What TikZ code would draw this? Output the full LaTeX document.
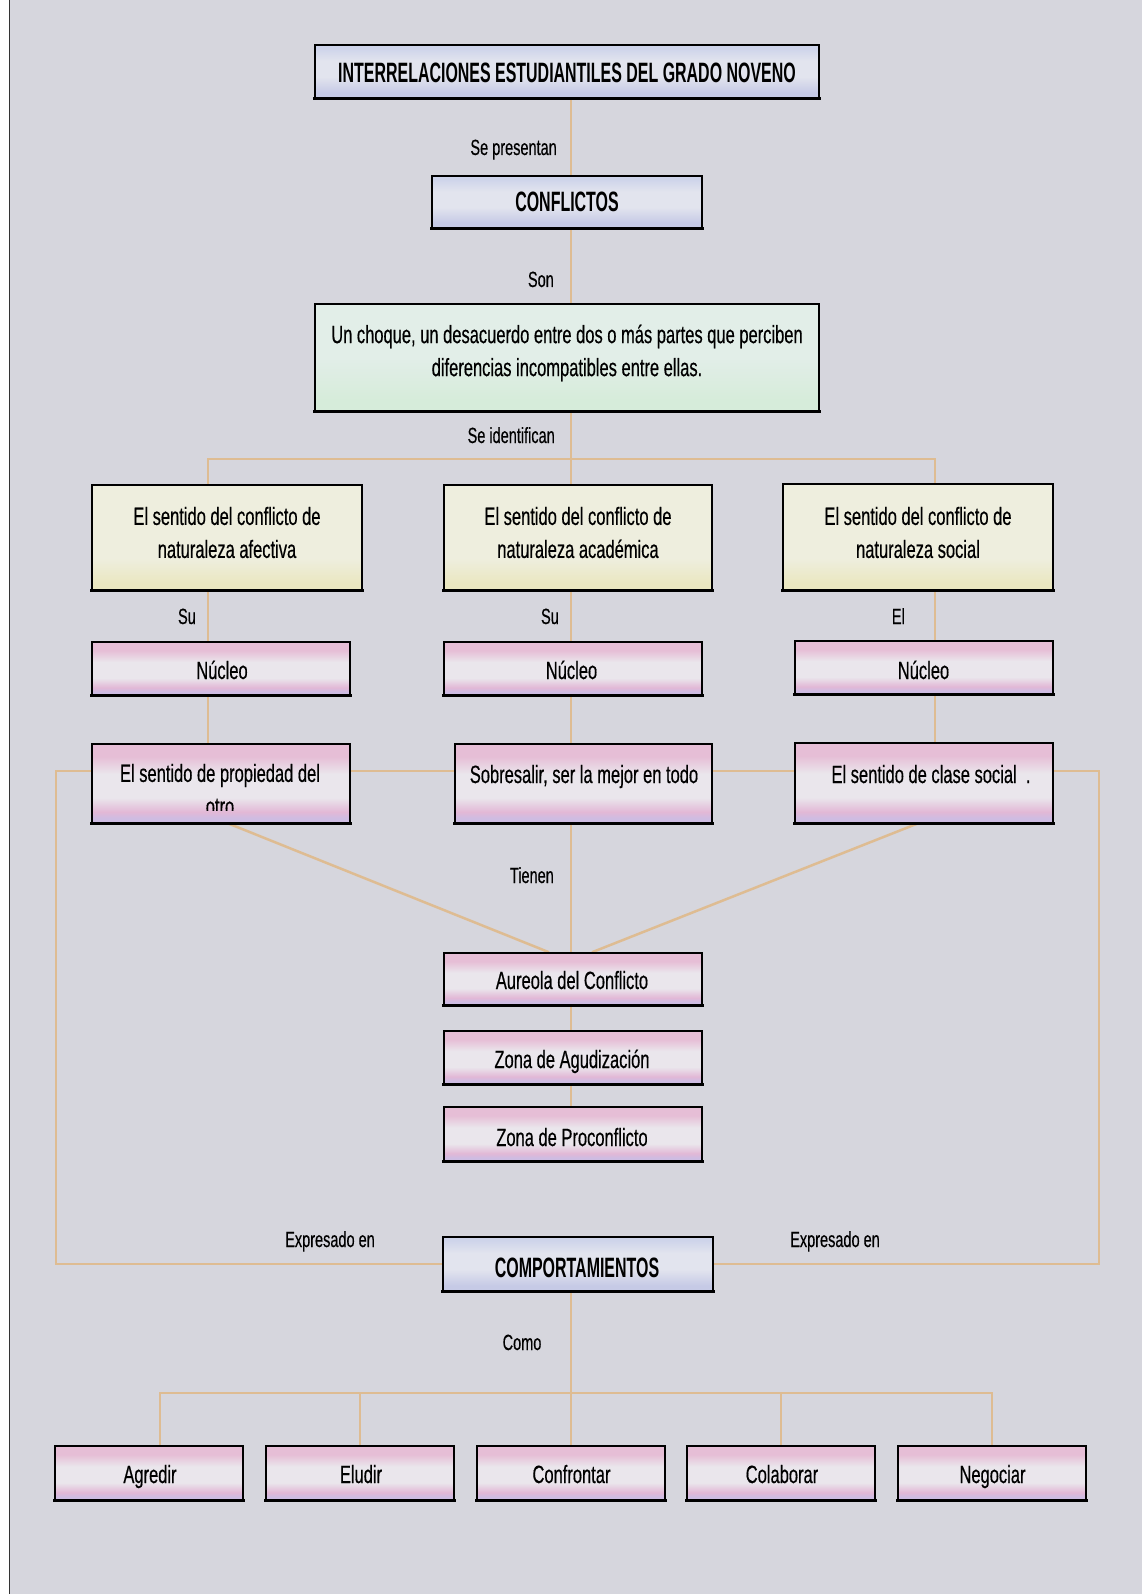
\documentclass[tikz,border=0pt]{standalone}
\usepackage{fontspec}
\setmainfont{Liberation Sans}[FakeStretch=0.66, FakeBold=0.4]
\newfontfamily\headfont{Liberation Sans}[FakeStretch=0.57]
\usetikzlibrary{calc}
\pgfdeclarelayer{page}
\pgfdeclarelayer{conn}
\pgfsetlayers{page,conn,main}
\definecolor{pagebg}{RGB}{214,214,221}
\definecolor{linec}{RGB}{222,188,146}
\definecolor{pkT}{RGB}{230,190,214}
\definecolor{pkM}{RGB}{234,230,236}
\definecolor{pkB}{RGB}{226,184,214}
\definecolor{pkL}{RGB}{206,188,226}
\definecolor{blT}{RGB}{206,212,234}
\definecolor{blM}{RGB}{226,228,238}
\definecolor{blB}{RGB}{198,202,230}
\definecolor{gnT}{RGB}{226,238,232}
\definecolor{gnB}{RGB}{214,236,218}
\definecolor{ywT}{RGB}{238,238,222}
\definecolor{ywB}{RGB}{234,231,192}
\pgfdeclareverticalshading{pinkshade}{100bp}{color(0bp)=(pkL); color(28bp)=(pkL); color(32bp)=(pkB); color(41bp)=(pkM); color(56bp)=(pkM); color(67bp)=(pkT); color(100bp)=(pkT)}
\pgfdeclareverticalshading{blueshade}{100bp}{color(0bp)=(blB); color(30bp)=(blB); color(45bp)=(blM); color(60bp)=(blM); color(72bp)=(blT); color(100bp)=(blT)}
\pgfdeclareverticalshading{yellowshade}{100bp}{color(0bp)=(ywB); color(28bp)=(ywB); color(40bp)=(ywT); color(100bp)=(ywT)}
\pgfdeclareverticalshading{greenshade}{100bp}{color(0bp)=(gnB); color(30bp)=(gnB); color(50bp)=(gnT); color(100bp)=(gnT)}
\tikzset{
  box/.style={draw=black, line width=1.5pt, inner sep=0pt, shade},
  pinkbox/.style={box, shading=pinkshade},
  bluebox/.style={box, shading=blueshade},
  yellowbox/.style={box, shading=yellowshade},
  greenbox/.style={box, shading=greenshade},
  boxtxt/.style={font=\fontsize{25}{33}\selectfont, align=center, inner sep=0pt, text=black},
  lbl/.style={font=\fontsize{22}{26}\selectfont, inner sep=0pt, text=black},
  headtxt/.style={font=\headfont\bfseries\fontsize{28}{32}\selectfont, inner sep=0pt, text=black},
  conn/.style={draw=linec, line width=2.5pt},
}
\begin{document}
\begin{tikzpicture}[x=1pt,y=-1pt]
\useasboundingbox (0,0) rectangle (1142,1594);
\begin{pgfonlayer}{page}
  \fill[white] (0,0) rectangle (1142,1594);
  \fill[pagebg] (10,0) rectangle (1142,1594);
  \draw[line width=1.5pt, black!80] (9.5,0) -- (9.5,1594);
\end{pgfonlayer}

% boxes
\node[bluebox, minimum width=504pt, minimum height=53pt] (title) at (567,71.5) {};
\node[bluebox, minimum width=270pt, minimum height=52pt] (conf) at (567,202) {};
\node[greenbox, minimum width=504pt, minimum height=107pt] (def) at (567,357.5) {};
\node[yellowbox, minimum width=270pt, minimum height=105pt] (yL) at (227,537.5) {};
\node[yellowbox, minimum width=268pt, minimum height=105pt] (yM) at (578,537.5) {};
\node[yellowbox, minimum width=270pt, minimum height=106pt] (yR) at (918,537) {};
\node[pinkbox, minimum width=258pt, minimum height=53pt] (nL) at (221,668.5) {};
\node[pinkbox, minimum width=258pt, minimum height=53pt] (nM) at (573,668.5) {};
\node[pinkbox, minimum width=258pt, minimum height=53pt] (nR) at (924,667.5) {};
\node[pinkbox, minimum width=258pt, minimum height=79pt] (pL) at (221,783.5) {};
\node[pinkbox, minimum width=257pt, minimum height=79pt] (pM) at (583.5,783.5) {};
\node[pinkbox, minimum width=258pt, minimum height=80pt] (pR) at (924,783) {};
\node[pinkbox, minimum width=258pt, minimum height=52pt] (aur) at (573,979) {};
\node[pinkbox, minimum width=258pt, minimum height=53pt] (agu) at (573,1057.5) {};
\node[pinkbox, minimum width=258pt, minimum height=54pt] (pro) at (573,1134) {};
\node[bluebox, minimum width=270pt, minimum height=54pt] (comp) at (578,1264) {};
\node[pinkbox, minimum width=188pt, minimum height=54pt] (b1) at (149,1473) {};
\node[pinkbox, minimum width=188pt, minimum height=54pt] (b2) at (360,1473) {};
\node[pinkbox, minimum width=188pt, minimum height=54pt] (b3) at (571,1473) {};
\node[pinkbox, minimum width=188pt, minimum height=54pt] (b4) at (781,1473) {};
\node[pinkbox, minimum width=188pt, minimum height=54pt] (b5) at (992,1473) {};

\foreach \n in {title,conf,def,yL,yM,yR,nL,nM,nR,pL,pM,pR,aur,agu,pro,comp,b1,b2,b3,b4,b5}
  \draw[line width=3.2pt] ($(\n.south west)+(-0.8,0)$) -- ($(\n.south east)+(0.8,0)$);

% texts in boxes
\node[headtxt, anchor=base] (titlet) at (567,83) {INTERRELACIONES ESTUDIANTILES DEL GRADO NOVENO};
\node[headtxt, anchor=base] (conft) at (567,212) {CONFLICTOS};
\node[boxtxt] (deft) at (567,353) {Un choque, un desacuerdo entre dos o más partes que perciben\\diferencias incompatibles entre ellas.};
\node[boxtxt] (yLt) at (227,532.5) {El sentido del conflicto de\\naturaleza afectiva};
\node[boxtxt] (yMt) at (578,532.5) {El sentido del conflicto de\\naturaleza académica};
\node[boxtxt] (yRt) at (918,532.5) {El sentido del conflicto de\\naturaleza social};
\node[boxtxt, anchor=base] (nLt) at (222,679) {Núcleo};
\node[boxtxt, anchor=base] (nMt) at (571.5,679) {Núcleo};
\node[boxtxt, anchor=base] (nRt) at (923.5,679) {Núcleo};
\begin{scope}
  \clip ($(pL.south west)+(0,-13)$) rectangle (pL.north east);
  \node[boxtxt] (pLt) at (220,789.5) {El sentido de propiedad del\\otro};
\end{scope}
\node[boxtxt, anchor=base] (pMt) at (584,783) {Sobresalir, ser la mejor en todo};
\node[boxtxt, anchor=base] (pRt) at (931,783) {El sentido de clase social~~.};
\node[boxtxt, anchor=base] (aurt) at (572,989) {Aureola del Conflicto};
\node[boxtxt, anchor=base] (agut) at (572,1068) {Zona de Agudización};
\node[boxtxt, anchor=base] (prot) at (572,1146) {Zona de Proconflicto};
\node[headtxt, anchor=base] (compt) at (577,1277) {COMPORTAMIENTOS};
\node[boxtxt, anchor=base] (b1t) at (150,1483) {Agredir};
\node[boxtxt, anchor=base] (b2t) at (361,1483) {Eludir};
\node[boxtxt, anchor=base] (b3t) at (571.5,1483) {Confrontar};
\node[boxtxt, anchor=base] (b4t) at (782,1483) {Colaborar};
\node[boxtxt, anchor=base] (b5t) at (992.5,1483) {Negociar};

% connector labels
\node[lbl, anchor=base east] (l1) at (557,155) {Se presentan};
\node[lbl, anchor=base east] (l2) at (554,287) {Son};
\node[lbl, anchor=base east] (l3) at (555,443) {Se identifican};
\node[lbl, anchor=base east] (l4) at (196,624) {Su};
\node[lbl, anchor=base east] (l5) at (559,624) {Su};
\node[lbl, anchor=base east] (l6) at (905,624) {El};
\node[lbl, anchor=base east] (l7) at (554,883) {Tienen};
\node[lbl, anchor=base] (l8) at (330,1247) {Expresado en};
\node[lbl, anchor=base] (l9) at (835,1247) {Expresado en};
\node[lbl, anchor=base] (l10) at (522,1350) {Como};

% connector coordinates
\coordinate (ax) at (571,0);
\coordinate (hl) at (0,771);
\coordinate (oL) at (56,771);
\coordinate (oR) at (1099,771);
\coordinate (oLb) at (56,1264);
\coordinate (oRb) at (1099,1264);
\coordinate (br1) at (571,459);
\coordinate (br1L) at (208,459);
\coordinate (br1R) at (935,459);
\coordinate (br2) at (571,1393);
\coordinate (br2L) at (160,1393);
\coordinate (br2a) at (360,1393);
\coordinate (br2b) at (781,1393);
\coordinate (br2R) at (992,1393);

\begin{pgfonlayer}{conn}
  \draw[conn] (title.south -| ax) -- (conf.north -| ax);
  \draw[conn] (conf.south -| ax) -- (def.north -| ax);
  \draw[conn] (def.south -| ax) -- (yM.north -| ax);
  \draw[conn] (yL.north -| br1L) -- (br1L) -- (br1R) -- (yR.north -| br1R);
  \draw[conn] (yL.south -| br1L) -- (nL.north -| br1L);
  \draw[conn] (nL.south -| br1L) -- (pL.north -| br1L);
  \draw[conn] (yM.south -| ax) -- (nM.north -| ax);
  \draw[conn] (nM.south -| ax) -- (pM.north -| ax);
  \draw[conn] (yR.south -| br1R) -- (nR.north -| br1R);
  \draw[conn] (nR.south -| br1R) -- (pR.north -| br1R);
  \draw[conn] (pL.west |- hl) -- (oL) -- (oLb) -- (comp.west |- oLb);
  \draw[conn] (pL.east |- hl) -- (pM.west |- hl);
  \draw[conn] (pM.east |- hl) -- (pR.west |- hl);
  \draw[conn] (pR.east |- hl) -- (oR) -- (oRb) -- (comp.east |- oRb);
  \draw[conn] ($(pL.south)+(8,0)$) -- ($(aur.north)+(-24,0)$);
  \draw[conn] ($(pR.south)+(-7,0)$) -- ($(aur.north)+(19,0)$);
  \draw[conn] (pM.south -| ax) -- (aur.north -| ax);
  \draw[conn] (aur.south -| ax) -- (agu.north -| ax);
  \draw[conn] (agu.south -| ax) -- (pro.north -| ax);
  \draw[conn] (comp.south -| ax) -- (b3.north -| ax);
  \draw[conn] (b1.north -| br2L) -- (br2L) -- (br2R) -- (b5.north -| br2R);
  \draw[conn] (br2a) -- (b2.north -| br2a);
  \draw[conn] (br2b) -- (b4.north -| br2b);
\end{pgfonlayer}
\end{tikzpicture}
\end{document}
